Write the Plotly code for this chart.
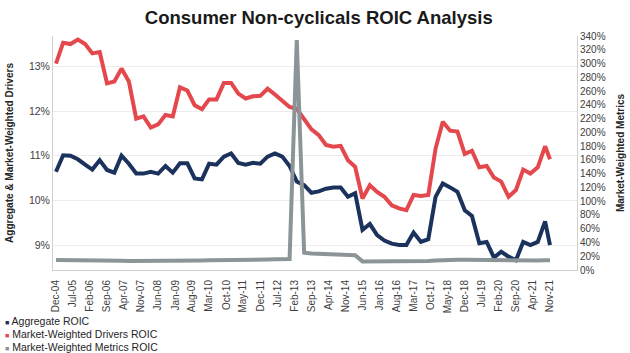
import plotly.graph_objects as go
import pandas as pd

# ---- data ----
dates = list(pd.date_range("2004-12-01", periods=68, freq="3MS")) + [pd.Timestamp("2021-11-01")]

aggregate_roic = [10.64, 11.01, 11.00, 10.92, 10.80, 10.69, 10.90, 10.68, 10.62, 11.00,
                  10.82, 10.60, 10.60, 10.64, 10.60, 10.77, 10.62, 10.83, 10.83, 10.49,
                  10.47, 10.82, 10.80, 10.98, 11.05, 10.84, 10.80, 10.84, 10.82, 10.98,
                  11.05, 10.98, 10.77, 10.42, 10.34, 10.17, 10.20, 10.26, 10.29, 10.29,
                  10.08, 10.16, 9.34, 9.47, 9.22, 9.10, 9.03, 9.00, 9.00, 9.28,
                  9.07, 9.13, 10.08, 10.38, 10.29, 10.19, 9.78, 9.65, 9.04, 9.07,
                  8.72, 8.85, 8.74, 8.66, 9.07, 9.00, 9.07, 9.53, 9.00]

drivers_roic = [13.06, 13.53, 13.50, 13.60, 13.50, 13.29, 13.32, 12.62, 12.66, 12.95,
                12.66, 11.83, 11.88, 11.63, 11.70, 11.91, 11.88, 12.53, 12.46, 12.13,
                12.04, 12.26, 12.26, 12.63, 12.63, 12.39, 12.28, 12.33, 12.34, 12.50,
                12.37, 12.24, 12.09, 12.05, 11.83, 11.59, 11.46, 11.24, 11.20, 11.22,
                10.90, 10.75, 10.04, 10.34, 10.19, 10.08, 9.89, 9.82, 9.78, 10.12,
                10.10, 10.12, 11.16, 11.76, 11.56, 11.54, 11.04, 11.11, 10.74, 10.77,
                10.51, 10.42, 10.08, 10.23, 10.69, 10.60, 10.74, 11.21, 10.92]

metrics_roic = [14.5, 14.5, 14.5, 14.3, 14.0, 14.0, 13.8, 13.5, 13.5, 13.3,
                13.0, 13.0, 12.8, 12.5, 12.5, 12.5, 12.8, 13.0, 13.0, 13.5,
                13.8, 14.0, 14.0, 14.3, 14.5, 14.5, 14.8, 15.0, 15.0, 15.2,
                15.5, 15.5, 16.0, 334.0, 25.0, 24.0, 23.5, 23.0, 22.0, 22.0,
                21.5, 21.5, 12.5, 12.5, 12.3, 12.3, 12.5, 12.5, 12.8, 13.0,
                13.0, 13.2, 13.8, 14.5, 15.0, 15.0, 15.0, 14.8, 14.5, 14.2,
                14.0, 13.8, 13.5, 13.5, 13.5, 13.5, 13.8, 14.0, 14.0]

series_names = ["Aggregate ROIC", "Market-Weighted Drivers ROIC", "Market-Weighted Metrics ROIC"]

tick_labels = ["Dec-04", "Jul-05", "Feb-06", "Sep-06", "Apr-07", "Nov-07", "Jun-08", "Jan-09",
               "Aug-09", "Mar-10", "Oct-10", "May-11", "Dec-11", "Jul-12", "Feb-13", "Sep-13",
               "Apr-14", "Nov-14", "Jun-15", "Jan-16", "Aug-16", "Mar-17", "Oct-17", "May-18",
               "Dec-18", "Jul-19", "Feb-20", "Sep-20", "Apr-21", "Nov-21"]
tick_dates = [pd.to_datetime(t, format="%b-%y") for t in tick_labels]

left_ticks = [9, 10, 11, 12, 13]
left_tick_text = ["9%", "10%", "11%", "12%", "13%"]

# ---- styles ----
BLUE = "#1b325c"
RED = "#e4484d"
GRAY = "#8b9497"
AXIS = "#d0d0d0"
TXT = "#404040"
colors = [BLUE, RED, GRAY]

W, H = 630, 353
ML, MR, MT, MB = 53, 53, 36, 83
PW, PH = W - ML - MR, H - MT - MB

fig = go.Figure()
fig.add_trace(go.Scatter(x=dates, y=aggregate_roic, mode="lines", name=series_names[0],
                         line=dict(color=BLUE, width=4), showlegend=False, yaxis="y"))
fig.add_trace(go.Scatter(x=dates, y=drivers_roic, mode="lines", name=series_names[1],
                         line=dict(color=RED, width=4), showlegend=False, yaxis="y"))
fig.add_trace(go.Scatter(x=dates, y=metrics_roic, mode="lines", name=series_names[2],
                         line=dict(color=GRAY, width=4), showlegend=False, yaxis="y2"))

# legend drawn as text annotations (compact, like the reference)
legend_rows_px = [321, 334, 347]
for name, c, py in zip(series_names, colors, legend_rows_px):
    fig.add_annotation(
        xref="paper", yref="paper",
        x=(3 - ML) / PW, y=(MT + PH - py) / PH,
        xanchor="left", yanchor="middle", showarrow=False,
        text=f'<span style="color:{c};font-size:7px">■</span> {name}',
        font=dict(size=10.5, color="#262626", family="Liberation Sans, Arial, sans-serif"),
    )

x_start = pd.Timestamp("2004-12-01") - pd.Timedelta(days=37)
x_end = pd.Timestamp("2004-12-01") + pd.Timedelta(days=6517)

fig.update_layout(
    template="none",
    width=W, height=H,
    margin=dict(l=ML, r=MR, t=MT, b=MB),
    paper_bgcolor="white", plot_bgcolor="white",
    showlegend=False,
    font=dict(family="Liberation Sans, Arial, sans-serif", color=TXT, size=11),
    title=dict(text="<b>Consumer Non-cyclicals ROIC Analysis</b>", x=0.506, xanchor="center",
               y=1 - 18 / H, yanchor="middle", yref="container",
               font=dict(size=18.5, color="#1a1a1a")),
    xaxis=dict(type="date", range=[x_start, x_end], tickvals=tick_dates, ticktext=tick_labels,
               tickangle=-90, tickfont=dict(size=10, color=TXT), showgrid=False,
               showline=True, linecolor=AXIS, linewidth=1, ticks="", zeroline=False,
               ticklabelstandoff=5, automargin=False),
    yaxis=dict(range=[8.441, 13.68], tickvals=left_ticks, ticktext=left_tick_text,
               tickfont=dict(size=10.5, color=TXT), showgrid=True, gridcolor="#ececec",
               gridwidth=1, showline=True, linecolor=AXIS, ticks="", zeroline=False,
               title=dict(text="<b>Aggregate & Market-Weighted Drivers</b>",
                          font=dict(size=10, color="#262626"), standoff=13),
               automargin=False),
    yaxis2=dict(range=[0, 340], dtick=20, tick0=0, ticksuffix="%", overlaying="y", side="right",
                tickfont=dict(size=10, color=TXT), showgrid=False, showline=True,
                linecolor=AXIS, ticks="", zeroline=False,
                title=dict(text="<b>Market-Weighted Metrics</b>",
                           font=dict(size=10, color="#262626"), standoff=12),
                automargin=False),
)

fig.write_html("out.html")
